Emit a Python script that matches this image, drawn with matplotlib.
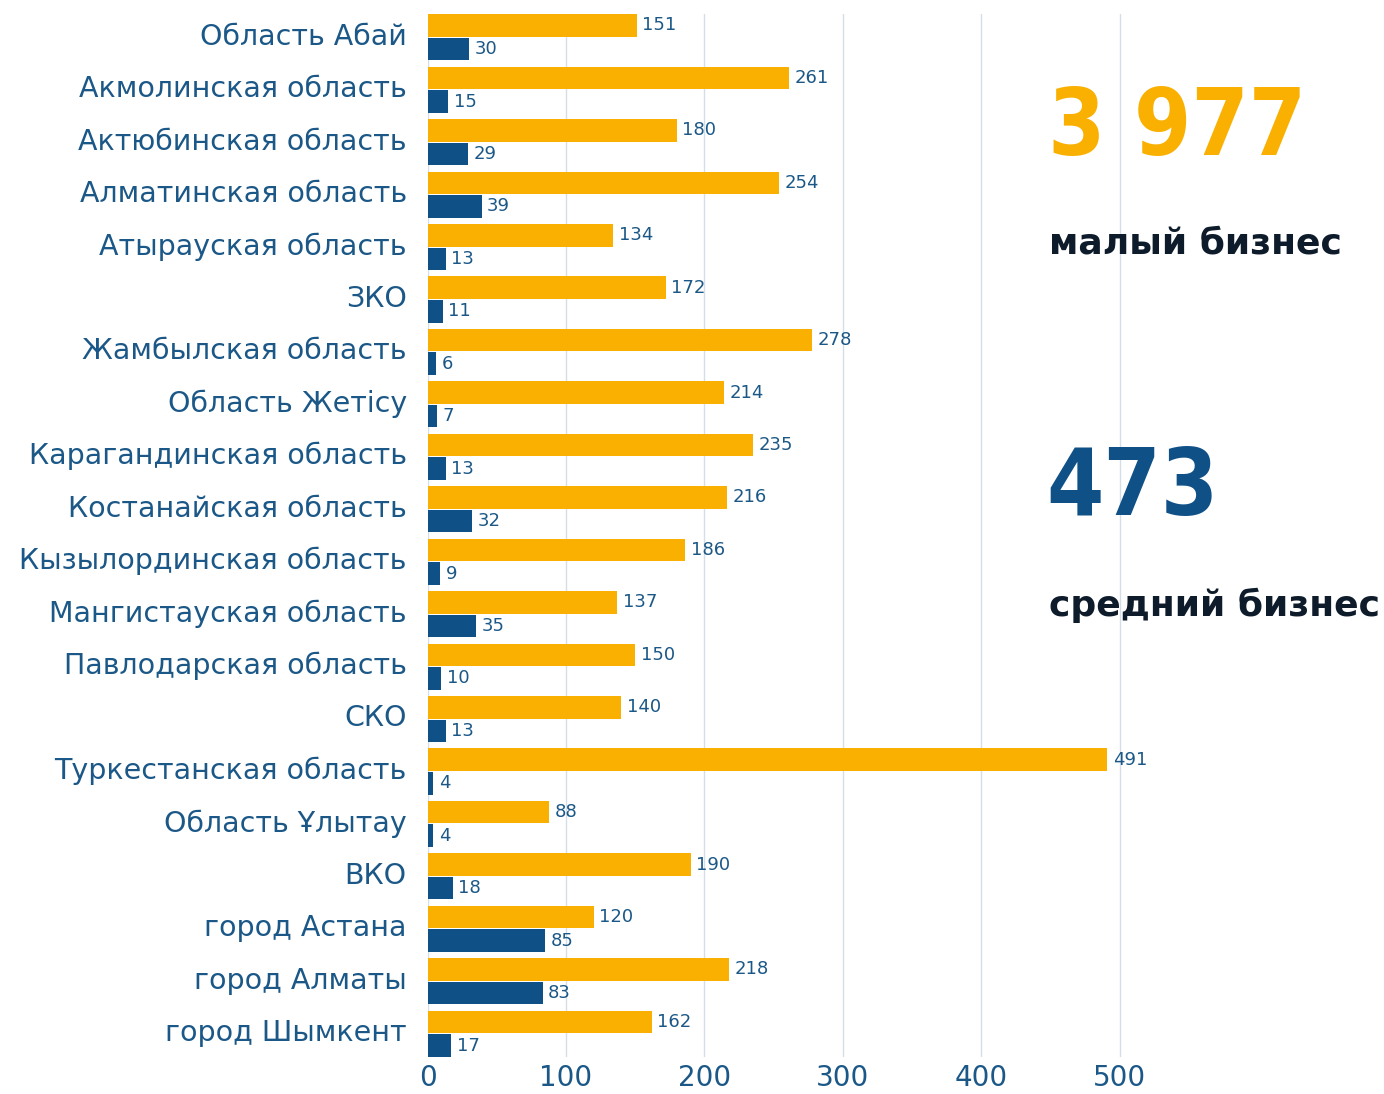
import matplotlib.pyplot as plt
import numpy as np

# Regions and counts of small / medium businesses
regions = ["Область Абай", "Акмолинская область", "Актюбинская область",
           "Алматинская область", "Атырауская область", "ЗКО",
           "Жамбылская область", "Область Жетісу", "Карагандинская область",
           "Костанайская область", "Кызылординская область",
           "Мангистауская область", "Павлодарская область", "СКО",
           "Туркестанская область", "Область Ұлытау", "ВКО",
           "город Астана", "город Алматы", "город Шымкент"]
small = [151, 261, 180, 254, 134, 172, 278, 214, 235, 216,
         186, 137, 150, 140, 491, 88, 190, 120, 218, 162]
medium = [30, 15, 29, 39, 13, 11, 6, 7, 13, 32,
          9, 35, 10, 13, 4, 4, 18, 85, 83, 17]
x_ticks = [0, 100, 200, 300, 400, 500]

orange = '#F9B000'
blue = '#0F5087'
text_blue = '#1B5887'
dark = '#0D1B2A'

plt.rcParams['font.family'] = ['DejaVu Sans']

fig = plt.figure(figsize=(13.84, 10.94), dpi=100)
ax = fig.add_axes([0.309, 0.034, 0.54, 0.953])

y = np.arange(len(regions))
h = 0.43
ax.barh(y - 0.225, small, height=h, color=orange, zorder=2)
ax.barh(y + 0.225, medium, height=h, color=blue, zorder=2)

for i in range(len(regions)):
    ax.text(small[i] + 4, y[i] - 0.225, str(small[i]), va='center', ha='left',
            fontsize=13, color=text_blue)
    ax.text(medium[i] + 4, y[i] + 0.225, str(medium[i]), va='center', ha='left',
            fontsize=13, color=text_blue)

ax.set_ylim(len(regions) - 0.56, -0.44)
ax.set_xlim(0, 540)
# labels sit a touch above the middle of each pair of bars
ax.set_yticks(y - 0.07)
ax.set_yticklabels(regions, fontsize=20.5, color=text_blue)
ax.set_xticks(x_ticks)
ax.set_xticklabels([str(t) for t in x_ticks], fontsize=20, color=text_blue)
ax.tick_params(length=0)
ax.tick_params(axis='y', pad=15)
ax.tick_params(axis='x', pad=5)
ax.grid(axis='x', color='#D3DEE8', linewidth=1, zorder=0)
for s in ax.spines.values():
    s.set_visible(False)

# Totals on the right
cond = ['DejaVu Sans Condensed', 'Liberation Sans Narrow', 'DejaVu Sans']
fig.text(0.757, 0.858, f"{sum(small):,}".replace(',', ' '), fontsize=66,
         fontweight='bold', color=orange, family=cond, fontstretch='condensed')
fig.text(0.758, 0.768, "малый бизнес", fontsize=26, fontweight='bold', color=dark)
fig.text(0.756, 0.529, str(sum(medium)), fontsize=66,
         fontweight='bold', color=blue, family=cond, fontstretch='condensed')
fig.text(0.758, 0.437, "средний бизнес", fontsize=26, fontweight='bold', color=dark)

plt.savefig('out.png', dpi=100)
